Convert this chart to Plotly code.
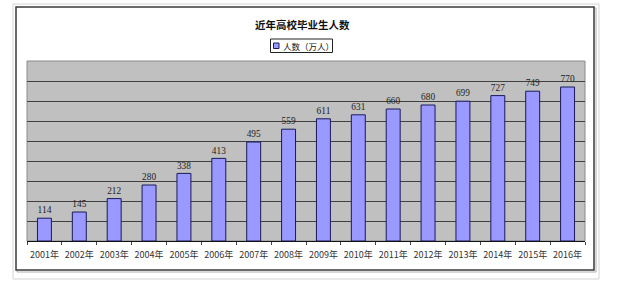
import plotly.graph_objects as go

years = ["2001年", "2002年", "2003年", "2004年", "2005年", "2006年", "2007年", "2008年",
         "2009年", "2010年", "2011年", "2012年", "2013年", "2014年", "2015年", "2016年"]
graduates = [114, 145, 212, 280, 338, 413, 495, 559, 611, 631, 660, 680, 699, 727, 749, 770]
title_text = "近年高校毕业生人数"
series_name = "人数（万人）"

W, H = 620, 289
L, R, T, B = 27, 585, 61, 241


def px(x):
    return (x - L) / (R - L)


def py(y):
    return (B - y) / (B - T)


fig = go.Figure()
fig.add_trace(go.Bar(
    x=years, y=graduates, name=series_name,
    marker=dict(color="#9999FF", line=dict(color="#1a1a5a", width=1)),
    width=0.4,
    text=graduates, textposition="outside",
    textfont=dict(family="Liberation Serif", size=10, color="#222222"),
    cliponaxis=False, showlegend=False,
))

shapes = [
    # outer light border
    dict(type="rect", xref="paper", yref="paper", x0=px(13), x1=px(599), y0=py(4), y1=py(279),
         line=dict(color="#d4d4d4", width=1), fillcolor="rgba(0,0,0,0)", layer="below"),
    # chart frame shadow
    dict(type="rect", xref="paper", yref="paper", x0=px(17), x1=px(596), y0=py(8), y1=py(272),
         line=dict(color="#b0b0b0", width=1), fillcolor="rgba(0,0,0,0)", layer="below"),
    # chart frame
    dict(type="rect", xref="paper", yref="paper", x0=px(16), x1=px(594), y0=py(7), y1=py(270),
         line=dict(color="#3a3a3a", width=1.5), fillcolor="#ffffff", layer="below"),
    # plot area background + border
    dict(type="rect", xref="paper", yref="paper", x0=0, x1=1, y0=0, y1=1,
         line=dict(color="#8a8a8a", width=1), fillcolor="#c0c0c0", layer="below"),
    # legend box
    dict(type="rect", xref="paper", yref="paper", x0=px(270.5), x1=px(332.5), y0=py(39), y1=py(52.5),
         line=dict(color="#222222", width=1), fillcolor="#ffffff"),
    dict(type="rect", xref="paper", yref="paper", x0=px(273.5), x1=px(279), y0=py(43), y1=py(48.5),
         line=dict(color="#1a1a5a", width=1), fillcolor="#9999FF"),
]

annotations = [
    dict(text="<b>" + title_text + "</b>", xref="paper", yref="paper", x=px(302), y=py(24),
         xanchor="center", yanchor="middle", showarrow=False,
         font=dict(family="Noto Sans CJK SC", size=10.5, color="#111111")),
    dict(text=series_name, xref="paper", yref="paper", x=px(280.5), y=py(45.8),
         xanchor="left", yanchor="middle", showarrow=False,
         font=dict(family="Noto Sans CJK SC", size=8.5, color="#111111")),
]

fig.update_layout(
    width=W, height=H,
    margin=dict(l=L, r=W - R, t=T, b=H - B, pad=0),
    paper_bgcolor="#ffffff", plot_bgcolor="rgba(0,0,0,0)",
    shapes=shapes, annotations=annotations,
    bargap=0.6,
    xaxis=dict(showline=True, linecolor="#111111", linewidth=1,
               ticks="outside", tickson="boundaries", ticklen=3, tickcolor="#444444",
               tickangle=0,
               tickfont=dict(family="Noto Sans CJK SC", size=9, color="#333333"),
               ticklabelstandoff=5, showgrid=False, fixedrange=True),
    yaxis=dict(range=[0, 900], dtick=100, showgrid=True, gridcolor="#404040", gridwidth=1,
               showticklabels=False, ticks="", zeroline=False, showline=False, fixedrange=True),
)

fig.write_html("out.html")
